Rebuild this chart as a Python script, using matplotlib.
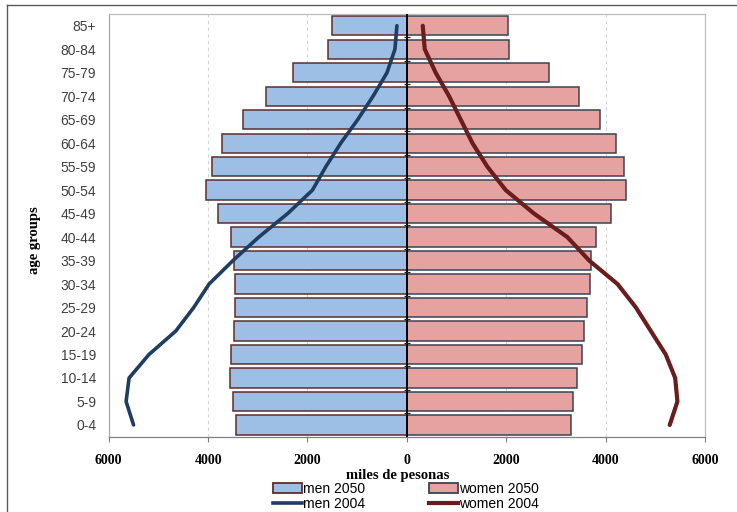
"""
Population pyramid: 2050 projection bars with 2004 profile lines.
"""

import matplotlib

matplotlib.use("Agg")
import matplotlib.pyplot as plt
import numpy as np
from matplotlib.lines import Line2D
from matplotlib.patches import Patch

# Data (thousands of people), bottom to top
age_groups = [
    "0-4", "5-9", "10-14", "15-19", "20-24", "25-29", "30-34", "35-39", "40-44",
    "45-49", "50-54", "55-59", "60-64", "65-69", "70-74", "75-79", "80-84", "85+",
]
men_2050 = [3430, 3490, 3555, 3530, 3475, 3450, 3455, 3475, 3530,
            3810, 4040, 3920, 3710, 3300, 2840, 2290, 1590, 1500]
women_2050 = [3300, 3345, 3430, 3515, 3560, 3630, 3680, 3715, 3800,
              4110, 4420, 4375, 4200, 3895, 3460, 2870, 2065, 2045]
men_2004 = [5500, 5650, 5590, 5190, 4650, 4290, 3980, 3500, 2980,
            2400, 1900, 1630, 1330, 990, 680, 400, 240, 200]
women_2004 = [5290, 5445, 5400, 5210, 4910, 4610, 4240, 3670, 3230,
              2560, 1990, 1620, 1320, 1085, 850, 580, 360, 320]
x_ticks = [-6000, -4000, -2000, 0, 2000, 4000, 6000]

men_fill, men_edge = "#9DBFE6", "#5C2E2E"
women_fill, women_edge = "#E6A2A1", "#3B4354"
men_line, women_line = "#1F3D60", "#6A1D1D"

fig = plt.figure(figsize=(7.37, 5.12), dpi=100)
ax = fig.add_axes([108.7 / 737, 1 - 436.7 / 512, 596.3 / 737, 422.7 / 512])

y = np.arange(len(age_groups))
men = np.array(men_2050)
women = np.array(women_2050)

ax.barh(y, -men, height=0.82, left=0, color=men_fill, edgecolor=men_edge,
        linewidth=1.1, zorder=2)
ax.barh(y, women, height=0.82, left=0, color=women_fill, edgecolor=women_edge,
        linewidth=1.1, zorder=2)

ax.plot(-np.array(men_2004), y, color=men_line, lw=2.6, solid_joinstyle="round",
        solid_capstyle="round", zorder=4)
ax.plot(np.array(women_2004), y, color=women_line, lw=3.0, solid_joinstyle="round",
        solid_capstyle="round", zorder=4)

# vertical category axis crossing at zero
ax.axvline(0, color="black", lw=1.4, zorder=3)
ax.plot(np.zeros(len(age_groups) - 1), y[:-1] + 0.5, ls="none", marker="_",
        ms=4, mew=0.9, color="#202020", zorder=3)

ax.set_xlim(-6000, 6000)
ax.set_ylim(-0.5, len(age_groups) - 0.5)

ax.set_xticks(x_ticks)
ax.set_xticklabels([str(abs(v)) for v in x_ticks], family="Liberation Serif",
                   fontweight="bold", fontsize=10)
ax.tick_params(axis="x", length=3.5, width=0.8, color="#808080", pad=9)
ax.set_yticks(y)
ax.set_yticklabels(age_groups, family="Liberation Sans", fontsize=10,
                   color="#404040")
ax.tick_params(axis="y", length=0, pad=9)

for v in x_ticks[1:-1]:
    if v != 0:
        ax.axvline(v, color="#D4D4D4", lw=0.8, ls=(0, (3, 3)), zorder=1)

ax.spines["bottom"].set_color("#808080")
ax.spines["left"].set_color("#A8A8A8")
ax.spines["top"].set_color("#BDBDBD")
ax.spines["right"].set_color("#BDBDBD")
for s in ax.spines.values():
    s.set_linewidth(0.9)

ax.set_xlabel("miles de pesonas", family="Liberation Serif", fontweight="bold",
              fontsize=10.5)
ax.xaxis.set_label_coords(0.485, -0.076)
ax.set_ylabel("age groups", family="Liberation Serif", fontweight="bold",
              fontsize=10.5)
ax.yaxis.set_label_coords(-0.113, 0.466)

handles = [
    Patch(facecolor=men_fill, edgecolor=men_edge, linewidth=1.3),
    Line2D([0], [0], color=men_line, lw=2.6),
    Patch(facecolor=women_fill, edgecolor=women_edge, linewidth=1.3),
    Line2D([0], [0], color=women_line, lw=3.0),
]
labels = ["men 2050", "men 2004", "women 2050", "women 2004"]
fig.legend(handles, labels, ncol=2, loc="upper left",
           bbox_to_anchor=(273 / 737, 1 - 482 / 512), frameon=False,
           borderpad=0, borderaxespad=0, handlelength=2.1, handleheight=0.7,
           handletextpad=0.05, columnspacing=4.6, labelspacing=0.05,
           prop={"family": "Liberation Sans", "size": 10})

# outer chart border (left and top edges visible)
fig.add_artist(Line2D([7 / 737, 7 / 737], [0, 1 - 5 / 512],
                      transform=fig.transFigure, color="#5A5A5A", lw=1.0))
fig.add_artist(Line2D([7 / 737, 1], [1 - 5 / 512, 1 - 5 / 512],
                      transform=fig.transFigure, color="#5A5A5A", lw=1.0))

fig.savefig("out.png", dpi=100)
